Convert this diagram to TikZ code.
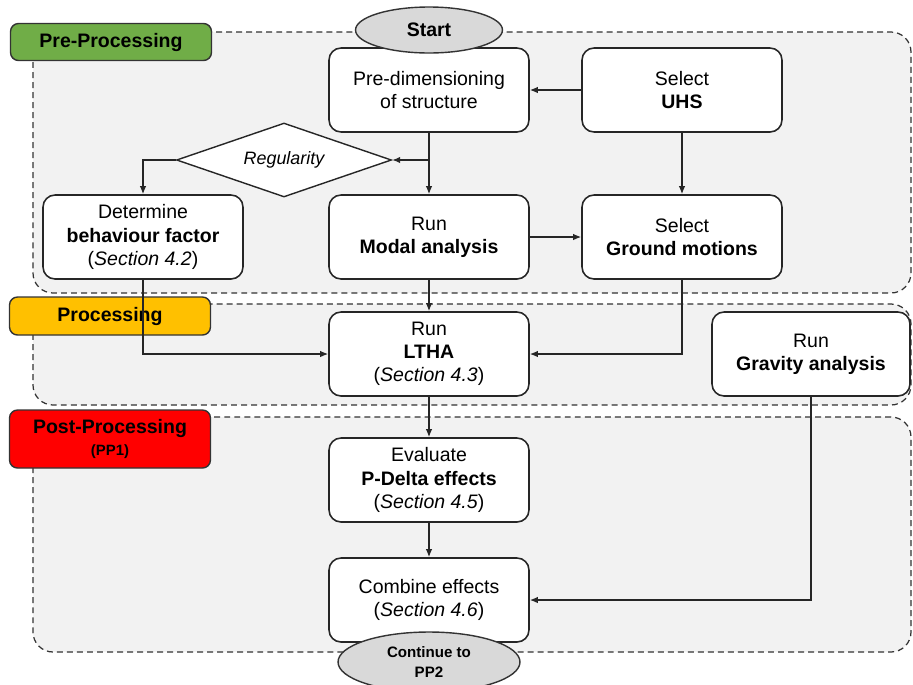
\documentclass[tikz,border=0pt]{standalone}
\usepackage{fontspec}
\setmainfont{Liberation Sans}
\usetikzlibrary{shapes.geometric,arrows.meta}

\definecolor{preGreen}{HTML}{70AD47}
\definecolor{procOrange}{HTML}{FFC000}
\definecolor{postRed}{HTML}{FF0000}
\definecolor{regionGray}{HTML}{F2F2F2}
\definecolor{termGray}{HTML}{D9D9D9}

\tikzset{
  stepbox/.style={draw=black!85, line width=0.9pt, rounded corners=0.24cm, fill=white,
    minimum width=4cm, minimum height=1.68cm, align=center, inner sep=2pt,
    font=\fontsize{11.1}{13.2}\selectfont},
  phase/.style={draw=black!80, line width=0.8pt, rounded corners=0.16cm,
    minimum width=4.02cm, align=center, inner sep=0pt,
    font=\bfseries\fontsize{11.1}{13}\selectfont},
  region/.style={draw=black!80, dash pattern=on 3.4pt off 2.3pt, line width=0.7pt,
    fill=regionGray, rounded corners=0.4cm},
  terminal/.style={ellipse, draw=black!80, line width=0.8pt, fill=termGray,
    align=center, inner sep=0pt},
  decision/.style={diamond, aspect=2.9, draw=black!85, line width=0.8pt, fill=white,
    minimum width=4.3cm, minimum height=1.48cm, inner sep=0pt,
    font=\itshape\fontsize{10.2}{12}\selectfont},
  flow/.style={-{Latex[length=1.6mm,width=1.3mm]}, line width=0.8pt, draw=black!85},
}

\begin{document}
\begin{tikzpicture}[x=0.02cm, y=-0.02cm]
\useasboundingbox (0,0) rectangle (913,684);

% Phase regions
\draw[region] (33,32) rectangle (911,293);
\draw[region] (33,304) rectangle (911,405);
\draw[region] (33,417) rectangle (911,652);

% Phase labels
\node[phase, fill=preGreen, minimum height=0.74cm] (prelab) at (111,42) {Pre-Processing};
\node[phase, fill=procOrange, minimum height=0.76cm] (proclab) at (110,316) {Processing};
\node[phase, fill=postRed, minimum height=1.16cm] (postlab) at (110,439)
  {Post-Processing\\[-1pt]{\fontsize{8.5}{10}\selectfont (PP1)}};

% Steps
\node[stepbox] (predim) at (429,90) {Pre-dimensioning\\of structure};
\node[stepbox] (uhs) at (682,90) {Select\\\textbf{UHS}};
\node[decision] (reg) at (284,160) {Regularity};
\node[stepbox] (beh) at (143,237) {Determine\\\textbf{behaviour factor}\\(\textit{Section 4.2})};
\node[stepbox] (modal) at (429,237) {Run\\\textbf{Modal analysis}};
\node[stepbox] (ground) at (682,237) {Select\\\textbf{Ground motions}};
\node[stepbox] (ltha) at (429,354) {Run\\\textbf{LTHA}\\(\textit{Section 4.3})};
\node[stepbox, minimum width=3.96cm] (grav) at (811,354) {Run\\\textbf{Gravity analysis}};
\node[stepbox] (pdelta) at (429,480) {Evaluate\\\textbf{P-Delta effects}\\(\textit{Section 4.5})};
\node[stepbox] (comb) at (429,600) {Combine effects\\(\textit{Section 4.6})};

% Connectors
\coordinate (branch) at (predim.south |- reg.east);
\draw[flow] (uhs) -- (predim);
\draw[flow] (uhs) -- (ground);
\draw[flow] (predim) -- (modal);
\draw[flow] (branch) -- (reg.east);
\draw[flow] (reg.west) -| (beh.north);
\draw[flow] (modal) -- (ground);
\draw[flow] (modal) -- (ltha);
\draw[flow] (beh.south) |- (ltha.west);
\draw[flow] (ground.south) |- (ltha.east);
\draw[flow] (ltha) -- (pdelta);
\draw[flow] (pdelta) -- (comb);
\draw[flow] (grav.south) |- (comb.east);

% Terminals
\node[terminal, minimum width=2.94cm, minimum height=0.92cm,
  font=\bfseries\fontsize{11.1}{13}\selectfont] (start) at (429,30) {Start};
\node[terminal, minimum width=3.64cm, minimum height=1.2cm,
  font=\bfseries\fontsize{8.6}{11}\selectfont] (cont) at (429,662) {Continue to\\PP2};
\end{tikzpicture}
\end{document}
